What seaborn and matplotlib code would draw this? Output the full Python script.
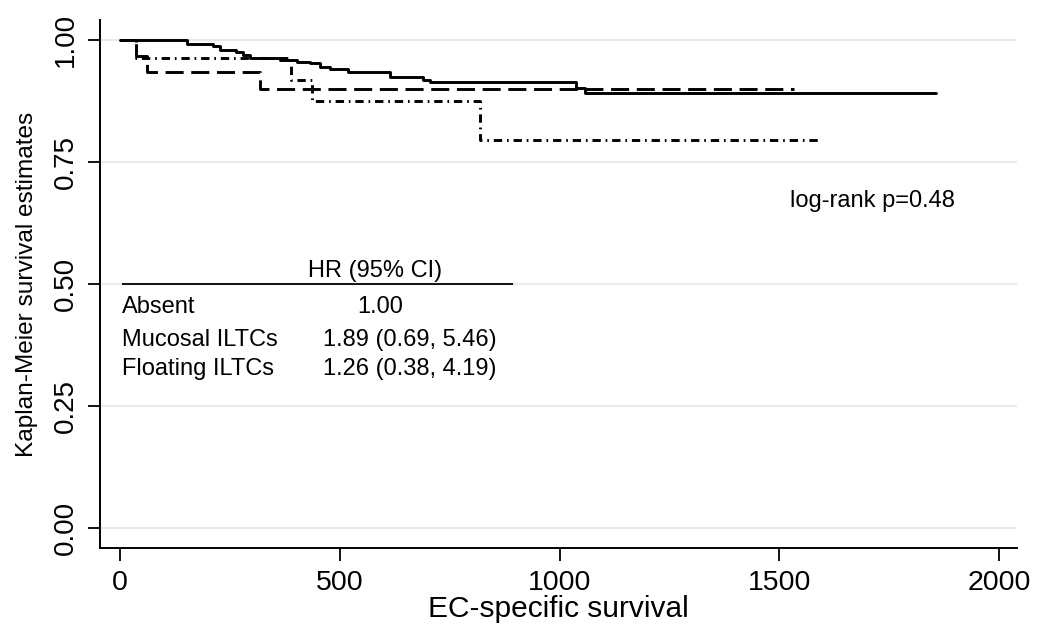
import numpy as np
import pandas as pd
import matplotlib
matplotlib.use("Agg")
import matplotlib.pyplot as plt
import seaborn as sns

# ---------- Kaplan-Meier step data ----------
absent_t = [0, 152, 212, 227, 265, 280, 295, 364, 402, 432, 455, 477, 518,
            614, 689, 705, 1038, 1057, 1856]
absent_s = [1.0, 0.992, 0.988, 0.980, 0.975, 0.969, 0.962, 0.959, 0.955,
            0.952, 0.945, 0.940, 0.935, 0.925, 0.918, 0.914, 0.901, 0.891,
            0.891]
mucosal_t = [0, 38, 61, 318, 1534]
mucosal_s = [1.0, 0.967, 0.935, 0.899, 0.899]
floating_t = [0, 38, 390, 436, 818, 1591]
floating_s = [1.0, 0.962, 0.918, 0.875, 0.795, 0.795]

groups = ["Absent", "Mucosal ILTCs", "Floating ILTCs"]
hr_text = ["1.00", "1.89 (0.69, 5.46)", "1.26 (0.38, 4.19)"]
y_ticks = [0.0, 0.25, 0.5, 0.75, 1.0]
y_ticklabels = ["0.00", "0.25", "0.50", "0.75", "1.00"]
x_ticks = [0, 500, 1000, 1500, 2000]
logrank = "log-rank p=0.48"

df = pd.concat([
    pd.DataFrame({"time": absent_t, "surv": absent_s, "group": groups[0]}),
    pd.DataFrame({"time": mucosal_t, "surv": mucosal_s, "group": groups[1]}),
    pd.DataFrame({"time": floating_t, "surv": floating_s, "group": groups[2]}),
], ignore_index=True)

sns.set_style("white")
plt.rcParams["font.family"] = ["Liberation Sans", "DejaVu Sans"]
plt.rcParams.update({
    "lines.scale_dashes": False,
    "text.color": "black", "axes.labelcolor": "black",
    "xtick.color": "black", "ytick.color": "black",
})

fig = plt.figure(figsize=(10.47, 6.37), dpi=100)
ax = fig.add_axes([0.0955, 0.1397, 0.8758, 0.829])

for y in y_ticks:
    ax.axhline(y, color="#eaeaea", lw=1.6, zorder=0)

sns.lineplot(data=df, x="time", y="surv", style="group", ax=ax,
             color="black", lw=2.1, estimator=None, sort=False,
             drawstyle="steps-post", legend=False,
             dashes={groups[0]: "", groups[1]: (13, 5.5),
                     groups[2]: (6, 3.5, 1.2, 3.5)})

ax.set_xlim(-45, 2040)
ax.set_ylim(-0.041, 1.041)
ax.set_xticks(x_ticks)
ax.set_yticks(y_ticks)
ax.set_yticklabels(y_ticklabels, rotation=90, va="center")
ax.tick_params(axis="x", direction="out", length=9, width=1.3,
               labelsize=20.5, pad=7, bottom=True)
ax.tick_params(axis="y", direction="out", length=9, width=1.3,
               labelsize=20, pad=6.5, left=True)
ax.set_xlabel("EC-specific survival", fontsize=21.5)
ax.xaxis.set_label_coords(0.5, -0.089)
ax.set_ylabel("Kaplan-Meier survival estimates", fontsize=17.6)
ax.yaxis.set_label_coords(-0.068, 0.5)

for side in ["top", "right"]:
    ax.spines[side].set_visible(False)
for side in ["left", "bottom"]:
    ax.spines[side].set_color("black")
    ax.spines[side].set_linewidth(1.4)

# annotations
ax.text(1523, 0.67, logrank, fontsize=17, va="center", ha="left")
ax.hlines(0.5, 5, 895, color="black", lw=1.3)
ax.text(427, 0.527, "HR (95% CI)", fontsize=17, va="center", ha="left")
row_y = [0.452, 0.386, 0.326]
val_x = [541, 461, 461]
for name, hr, yy, vx in zip(groups, hr_text, row_y, val_x):
    ax.text(5, yy, name, fontsize=17, va="center", ha="left")
    ax.text(vx, yy, hr, fontsize=17, va="center", ha="left")

fig.savefig("out.png", dpi=100)
